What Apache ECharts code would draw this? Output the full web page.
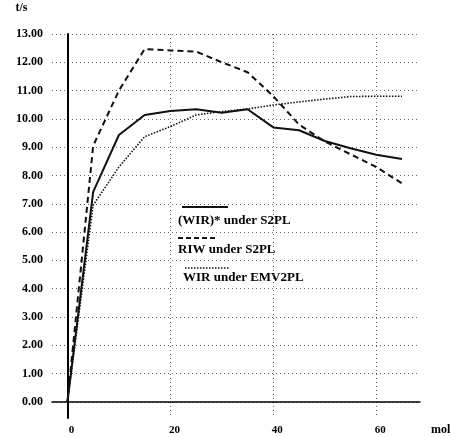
<!DOCTYPE html>
<html>
<head>
<meta charset="utf-8">
<script src="https://cdn.jsdelivr.net/npm/echarts@6/dist/echarts.min.js"></script>
<style>html,body{margin:0;padding:0;background:#fff;}#c{width:451px;height:437px;}</style>
</head>
<body>
<div id="c"></div>
<script>
const xValues = [0, 5, 10, 15, 20, 25, 30, 35, 40, 45, 50, 55, 60, 65];
const wirS2PL = [0, 7.42, 9.43, 10.14, 10.28, 10.34, 10.22, 10.34, 9.7, 9.6, 9.22, 8.96, 8.73, 8.58];
const riwS2PL = [0, 9.05, 11.0, 12.47, 12.42, 12.38, 12.0, 11.65, 10.8, 9.8, 9.2, 8.75, 8.3, 7.72];
const wirEMV2PL = [0, 6.95, 8.3, 9.37, 9.73, 10.14, 10.26, 10.35, 10.49, 10.6, 10.7, 10.79, 10.8, 10.8];
const legendNames = ['(WIR)* under S2PL', 'RIW under S2PL', 'WIR under EMV2PL'];

const font = 'Liberation Serif';
const pairs = arr => xValues.map((x, i) => [x, arr[i]]);

const chart = echarts.init(document.getElementById('c'));
chart.setOption({
  animation: false,
  backgroundColor: '#fff',
  grid: { left: 52, top: 34, width: 368, height: 384, outerBoundsMode: 'none', containLabel: false },
  xAxis: {
    type: 'value', min: -3, max: 68.5, minInterval: 20, maxInterval: 20,
    name: 'mol', nameLocation: 'end', nameGap: 11,
    nameTextStyle: { fontFamily: font, fontWeight: 'bold', fontSize: 12, color: '#000', verticalAlign: 'top', padding: [22, 0, 0, 0] },
    axisLine: { onZero: true, lineStyle: { color: '#000', width: 1.5 } },
    axisTick: { show: false },
    axisLabel: { showMinLabel: false, showMaxLabel: false, margin: 7, fontFamily: font, fontWeight: 'bold', fontSize: 11, color: '#000', padding: [0, 0, 0, 8] },
    splitLine: { show: true, showMinLine: false, showMaxLine: false, lineStyle: { color: '#666', width: 1, type: [1, 3] } }
  },
  yAxis: {
    type: 'value', min: -0.57, max: 13, minInterval: 1, maxInterval: 1,
    name: 't/s', nameLocation: 'end', nameGap: 20,
    nameTextStyle: { fontFamily: font, fontWeight: 'bold', fontSize: 12, color: '#000', align: 'right', padding: [0, 40, 0, 0] },
    axisLine: { onZero: true, lineStyle: { color: '#000', width: 2 } },
    axisTick: { show: false },
    axisLabel: { showMinLabel: false, margin: 9, fontFamily: font, fontWeight: 'bold', fontSize: 12, color: '#000', formatter: v => v.toFixed(2) },
    splitLine: { show: true, showMinLine: false, lineStyle: { color: '#666', width: 1, type: [1, 3] } }
  },
  series: [
    { name: legendNames[0], type: 'line', data: pairs(wirS2PL), symbol: 'none', lineStyle: { color: '#111', width: 2 } },
    { name: legendNames[1], type: 'line', data: pairs(riwS2PL), symbol: 'none', lineStyle: { color: '#111', width: 2, type: [6, 4] } },
    { name: legendNames[2], type: 'line', data: pairs(wirEMV2PL), symbol: 'none', lineStyle: { color: '#111', width: 1.6, type: [1.5, 1.5] } }
  ],
  graphic: [
    { type: 'line', shape: { x1: 182, y1: 207, x2: 228, y2: 207 }, style: { stroke: '#111', lineWidth: 2 } },
    { type: 'text', left: 178, top: 214, style: { text: legendNames[0], font: 'bold 13px "Liberation Serif"', fill: '#000' } },
    { type: 'line', shape: { x1: 178, y1: 238, x2: 218, y2: 238 }, style: { stroke: '#111', lineWidth: 2, lineDash: [5, 3] } },
    { type: 'text', left: 178, top: 243, style: { text: legendNames[1], font: 'bold 13px "Liberation Serif"', fill: '#000' } },
    { type: 'line', shape: { x1: 185, y1: 268, x2: 230, y2: 268 }, style: { stroke: '#111', lineWidth: 1.5, lineDash: [1.5, 1.5] } },
    { type: 'text', left: 183, top: 271, style: { text: legendNames[2], font: 'bold 13px "Liberation Serif"', fill: '#000' } }
  ]
});
</script>
</body>
</html>
